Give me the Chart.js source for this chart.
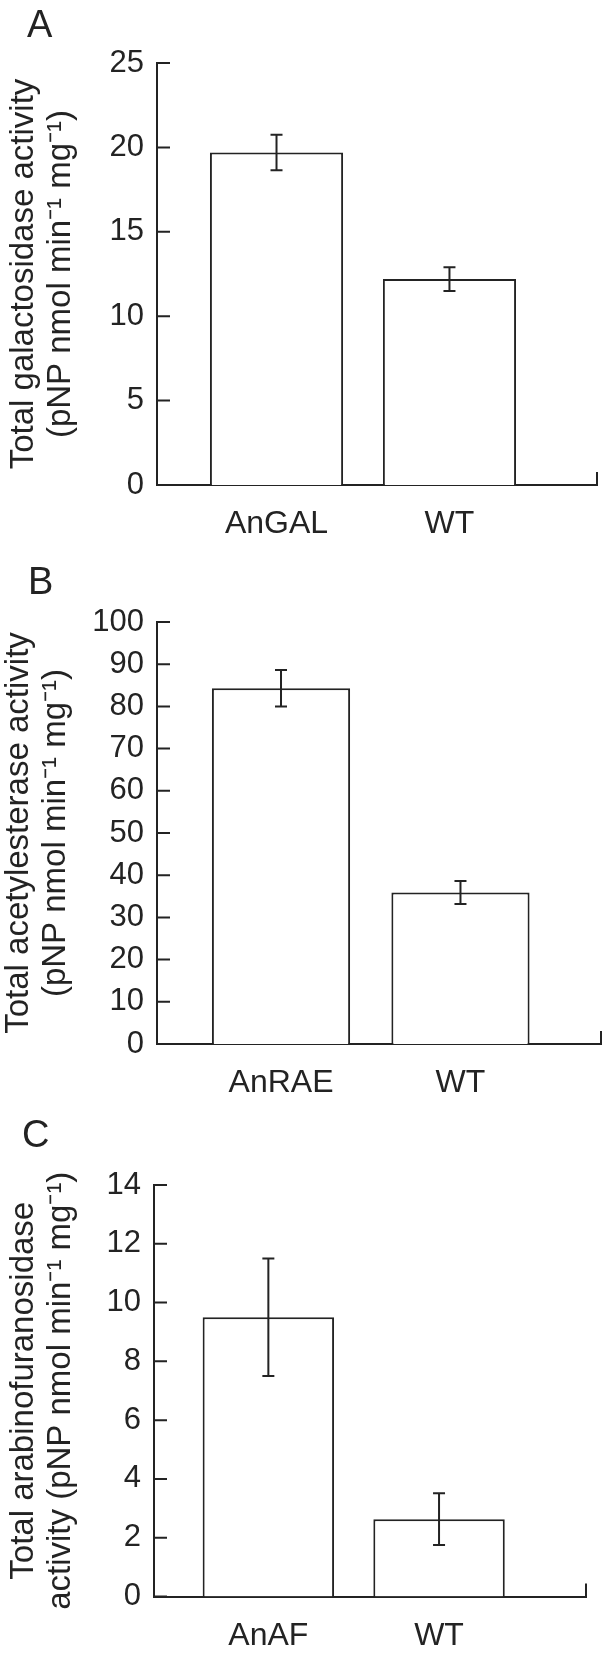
<!DOCTYPE html>
<html>
<head>
<meta charset="utf-8">
<script src="https://cdn.jsdelivr.net/npm/chart.js@4.4.1/dist/chart.umd.min.js"></script>
<style>
  html, body { margin: 0; padding: 0; background: #fff; }
  #wrap { position: relative; width: 602px; height: 1655px; }
  canvas { position: absolute; left: 0; }
</style>
</head>
<body>
<div id="wrap">
  <canvas id="chartA" width="602" height="550" style="top:0px"></canvas>
  <canvas id="chartB" width="602" height="560" style="top:550px"></canvas>
  <canvas id="chartC" width="602" height="545" style="top:1110px"></canvas>
</div>
<script>
// Panel A - galactosidase
const catsA = ['AnGAL', 'WT'];
const valsA = [19.7, 12.2];
const errsA = [1.05, 0.7];
const ticksA = [0, 5, 10, 15, 20, 25];
const titleA = ['Total galactosidase activity', '(pNP nmol min\u207B\u00B9 mg\u207B\u00B9)'];

// Panel B - acetylesterase
const catsB = ['AnRAE', 'WT'];
const valsB = [84.3, 35.9];
const errsB = [4.3, 2.7];
const ticksB = [0, 10, 20, 30, 40, 50, 60, 70, 80, 90, 100];
const titleB = ['Total acetylesterase activity', '(pNP nmol min\u207B\u00B9 mg\u207B\u00B9)'];

// Panel C - arabinofuranosidase
const catsC = ['AnAF', 'WT'];
const valsC = [9.5, 2.63];
const errsC = [2.0, 0.88];
const ticksC = [0, 2, 4, 6, 8, 10, 12, 14];
const titleC = ['Total arabinofuranosidase', 'activity (pNP nmol min\u207B\u00B9 mg\u207B\u00B9)'];

const ink = '#232323';
const family = '"Liberation Sans", Arial, Helvetica, sans-serif';

// error bars, inward y ticks, end tick on the x axis, panel letter
const decor = {
    id: 'decor',
    afterDatasetsDraw(chart) {
        const ctx = chart.ctx;
        const a = chart.chartArea;
        const y = chart.scales.y;
        const ds = chart.data.datasets[0];
        const meta = chart.getDatasetMeta(0);
        const cfg = chart.options.plugins.decor;
        ctx.save();
        ctx.strokeStyle = ink;
        ctx.lineWidth = 2;
        ctx.beginPath();
        meta.data.forEach((bar, i) => {
            const v = ds.data[i].y, e = ds.errors[i];
            const top = y.getPixelForValue(v + e);
            const bot = y.getPixelForValue(v - e);
            ctx.moveTo(bar.x, top); ctx.lineTo(bar.x, bot);
            ctx.moveTo(bar.x - 6, top); ctx.lineTo(bar.x + 6, top);
            ctx.moveTo(bar.x - 6, bot); ctx.lineTo(bar.x + 6, bot);
        });
        y.ticks.forEach(t => {
            const py = y.getPixelForValue(t.value);
            ctx.moveTo(a.left, py); ctx.lineTo(a.left + 13, py);
        });
        ctx.moveTo(a.right, a.bottom); ctx.lineTo(a.right, a.bottom - 13);
        ctx.stroke();
        ctx.fillStyle = ink;
        ctx.font = '38px ' + family;
        ctx.textAlign = 'left';
        ctx.textBaseline = 'alphabetic';
        ctx.fillText(cfg.letter, cfg.letterX, cfg.letterY);
        ctx.restore();
    }
};

function makePanel(id, cats, vals, errs, yTicks, title, lay) {
    const canvas = document.getElementById(id);
    new Chart(canvas.getContext('2d'), {
        type: 'bar',
        data: {
            datasets: [{
                data: vals.map((v, i) => ({ x: i, y: v })),
                errors: errs,
                backgroundColor: '#ffffff',
                borderColor: ink,
                borderWidth: 2,
                barPercentage: 0.77,
                categoryPercentage: 1
            }]
        },
        options: {
            responsive: false,
            animation: false,
            devicePixelRatio: 1,
            layout: { padding: { top: lay.top, right: lay.right, bottom: lay.bottom, left: 0 } },
            plugins: {
                legend: { display: false },
                tooltip: { enabled: false },
                decor: { letter: lay.letter, letterX: lay.letterX, letterY: lay.letterY }
            },
            scales: {
                x: {
                    type: 'linear',
                    offset: false,
                    bounds: 'data',
                    min: lay.xMin,
                    max: lay.xMax,
                    afterBuildTicks: s => { s.ticks = cats.map((c, i) => ({ value: i })); },
                    afterFit: s => { s.height = lay.xAxisH; },
                    grid: { display: false, drawTicks: false },
                    border: { display: true, color: ink, width: 2 },
                    ticks: {
                        color: ink,
                        padding: 20,
                        font: { family: family, size: 32 },
                        callback: v => cats[v]
                    }
                },
                y: {
                    min: yTicks[0],
                    max: yTicks[yTicks.length - 1],
                    afterBuildTicks: s => { s.ticks = yTicks.map(v => ({ value: v })); },
                    afterFit: s => { s.width = lay.yAxisW; },
                    grid: { display: false, drawTicks: false },
                    border: { display: true, color: ink, width: 2 },
                    ticks: {
                        color: ink,
                        padding: 13,
                        font: { family: family, size: 31 }
                    },
                    title: {
                        display: true,
                        text: title,
                        color: ink,
                        padding: { top: lay.titlePad, bottom: 0 },
                        font: { family: family, size: 33, lineHeight: 1.12 }
                    }
                }
            }
        },
        plugins: [decor]
    });
}

document.addEventListener('DOMContentLoaded', function() {
    if (typeof Chart === 'undefined') {
        console.error('Chart.js not loaded');
        return;
    }
    makePanel('chartA', catsA, valsA, errsA, ticksA, titleA, {
        top: 63, right: 5, bottom: 5, xAxisH: 60, yAxisW: 157,
        xMin: -0.691, xMax: 1.853, titlePad: 5,
        letter: 'A', letterX: 27, letterY: 37
    });
    makePanel('chartB', catsB, valsB, errsB, ticksB, titleB, {
        top: 72, right: 1, bottom: 6, xAxisH: 60, yAxisW: 157,
        xMin: -0.691, xMax: 1.783, titlePad: 0,
        letter: 'B', letterX: 28, letterY: 44
    });
    makePanel('chartC', catsC, valsC, errsC, ticksC, titleC, {
        top: 75, right: 16, bottom: 3.5, xAxisH: 55, yAxisW: 154,
        xMin: -0.67, xMax: 1.861, titlePad: 5,
        letter: 'C', letterX: 22, letterY: 37
    });
});
</script>
</body>
</html>
